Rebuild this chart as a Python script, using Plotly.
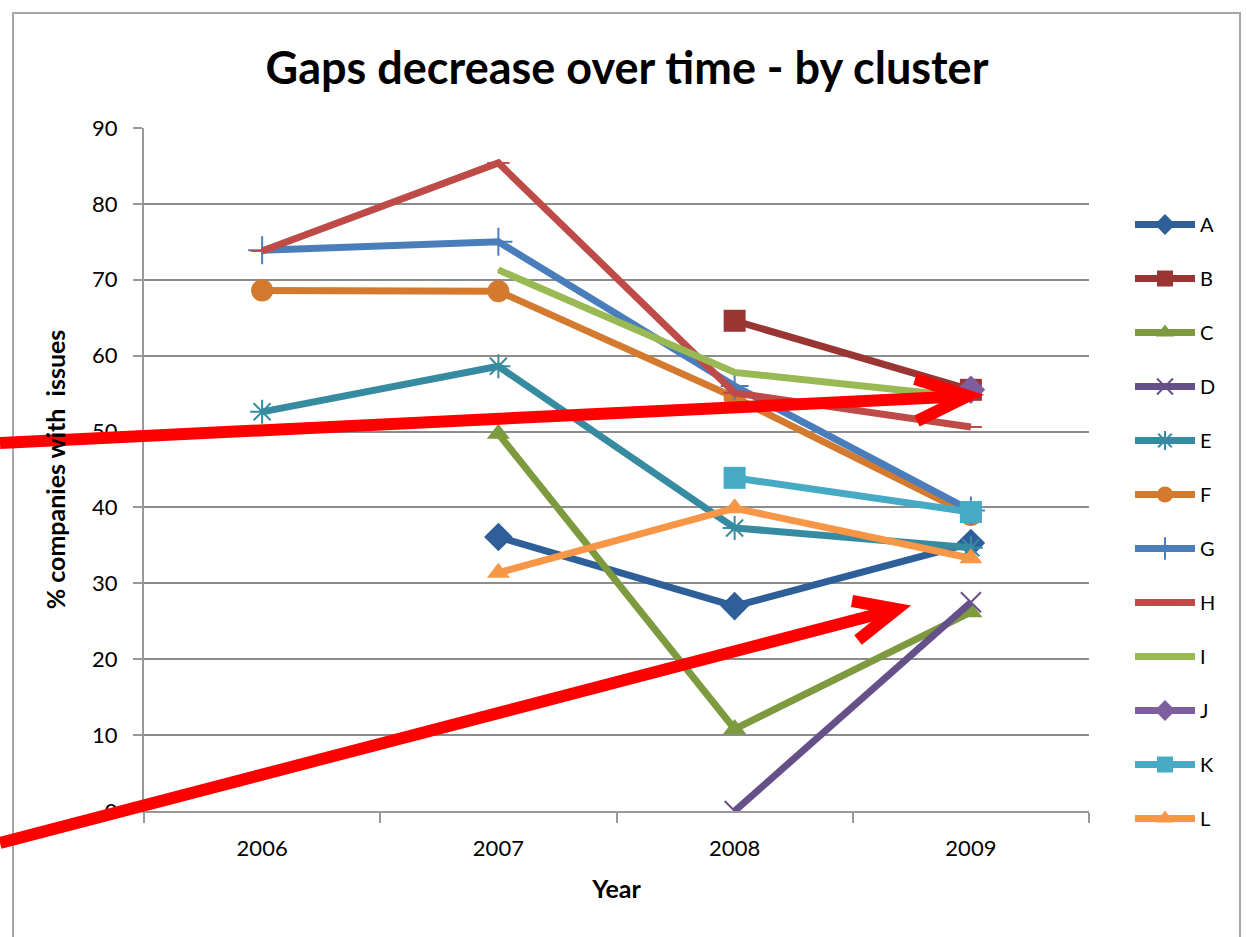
import plotly.graph_objects as go

years = ["2006", "2007", "2008", "2009"]

cluster_a = [None, 36.1, 27.0, 35.3]
cluster_b = [None, None, 64.6, 55.5]
cluster_c = [None, 49.7, 10.8, 26.2]
cluster_d = [None, None, 0.0, 27.5]
cluster_e = [52.6, 58.6, 37.3, 34.7]
cluster_f = [68.6, 68.5, 54.5, 39.0]
cluster_g = [73.9, 75.0, 56.0, 39.6]
cluster_h = [73.8, 85.4, 55.1, 50.6]
cluster_i = [None, 71.3, 57.8, 54.5]
cluster_j = [None, None, None, 55.5]
cluster_k = [None, None, 43.9, 39.4]
cluster_l = [None, 31.4, 39.9, 33.3]

series = [
    ("A", cluster_a, "#2F5F98", "diamond", 22),
    ("B", cluster_b, "#993634", "square", 22),
    ("C", cluster_c, "#7E9A3E", "triangle-up", 20),
    ("D", cluster_d, "#66508A", "x-thin-open", 20),
    ("E", cluster_e, "#378BA1", "asterisk-open", 20),
    ("F", cluster_f, "#D47A2F", "circle", 22),
    ("G", cluster_g, "#4A7EBB", "cross-thin-open", 20),
    ("H", cluster_h, "#BE4B48", "line-ew-open", 16),
    ("I", cluster_i, "#98B954", "line-ew-open", 1),
    ("J", cluster_j, "#7D5FA0", "diamond", 22),
    ("K", cluster_k, "#46AAC5", "square", 22),
    ("L", cluster_l, "#F79646", "triangle-up", 20),
]

W, H = 1247, 937
L_PX, R_PX, T_PX, B_PX = 144, 1089, 128, 811


def px(x, y):
    """Convert page pixel position to paper coordinates of the plot area."""
    return (x - L_PX) / (R_PX - L_PX), (B_PX - y) / (B_PX - T_PX)


fig = go.Figure()
for name, vals, color, symbol, size in series:
    open_sym = symbol.endswith("open")
    fig.add_trace(go.Scatter(
        x=years, y=vals, name=name, mode="lines+markers",
        legendgroup=name,
        line=dict(color=color, width=7),
        marker=dict(symbol=symbol, size=size, color=color,
                    line=dict(color=color, width=2 if open_sym else 0)),
        connectgaps=False,
    ))

# red callout arrows drawn over the chart
arrow_paths = [
    [(0, 443), (968, 396)],
    [(915, 379), (968, 396), (917, 421)],
    [(0, 843), (897, 609)],
    [(852, 601), (897, 609), (858, 640)],
]
shapes = []
for pts in arrow_paths:
    coords = [px(x, y) for x, y in pts]
    path = "M " + " L ".join(f"{a:.4f},{b:.4f}" for a, b in coords)
    shapes.append(dict(type="path", xref="paper", yref="paper", path=path,
                       line=dict(color="#FF0000", width=12), layer="above"))

# chart frame
fx0, fy0 = px(13, 13)
fx1, fy1 = px(1240, 960)
shapes.append(dict(type="rect", xref="paper", yref="paper",
                   x0=fx0, y0=fy1, x1=fx1, y1=fy0,
                   line=dict(color="#A6A6A6", width=2), layer="below"))

fig.update_layout(
    width=W, height=H,
    margin=dict(l=L_PX, r=W - R_PX, t=T_PX, b=H - B_PX),
    paper_bgcolor="white", plot_bgcolor="white",
    font=dict(family="Lato, Open Sans, sans-serif", color="#000000"),
    title=dict(text="<b>Gaps decrease over time - by cluster</b>",
               x=627 / W, xanchor="center",
               y=1 - 68 / H, yanchor="middle",
               font=dict(size=45, family="Lato, sans-serif")),
    xaxis=dict(
        type="category", range=[-0.5, 3.5],
        tickson="boundaries", ticks="outside", ticklen=10,
        tickcolor="#999999", tickwidth=2,
        showline=True, linecolor="#999999", linewidth=2,
        showgrid=False, tickfont=dict(size=22), ticklabelstandoff=17,
        title=dict(text="<b>Year</b>", font=dict(size=25), standoff=20),
    ),
    yaxis=dict(
        range=[0, 90], dtick=10, ticks="outside", ticklen=9,
        tickcolor="#999999", tickwidth=2,
        showline=True, linecolor="#999999", linewidth=2,
        showgrid=True, gridcolor="#8C8C8C", gridwidth=2,
        zeroline=False, tickfont=dict(size=22), ticklabelstandoff=11,
        title=dict(text="<b>% companies with  issues</b>", font=dict(size=25),
                   standoff=19),
    ),
    legend=dict(
        x=px(1130, 0)[0], y=px(0, 205)[1], xanchor="left", yanchor="top",
        font=dict(size=20), tracegroupgap=25, itemwidth=60,
        bgcolor="rgba(0,0,0,0)",
    ),
    shapes=shapes,
)

fig.write_html("out.html")
